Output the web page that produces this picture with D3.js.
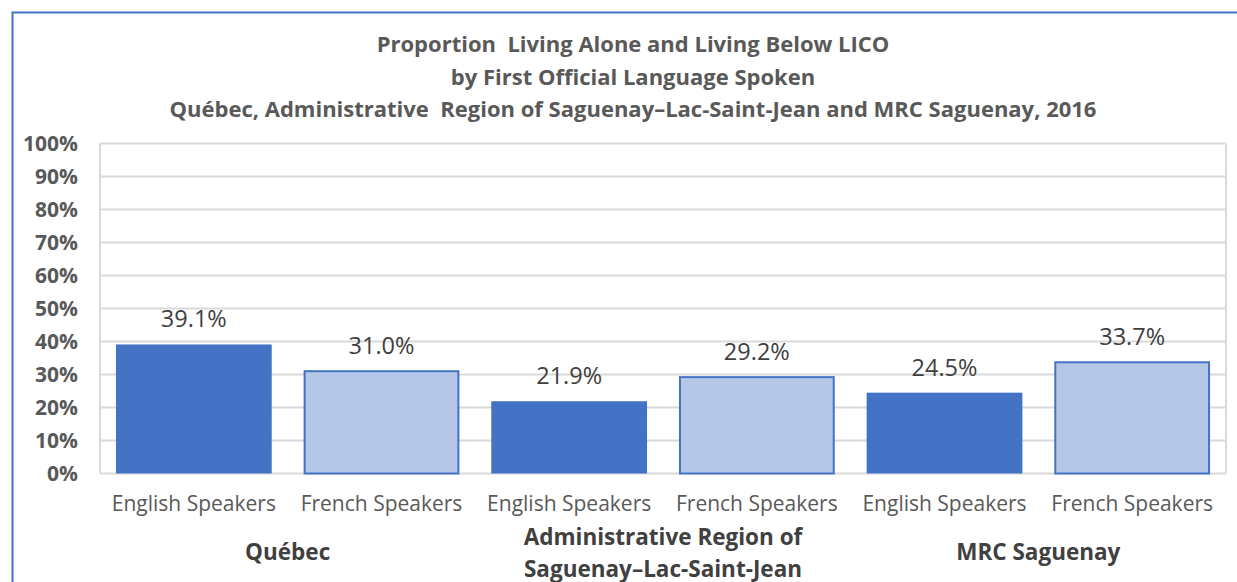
<!DOCTYPE html>
<html>
<head>
<meta charset="utf-8">
<script src="https://cdn.jsdelivr.net/npm/d3@7"></script>
<style>
  body { margin: 0; background: #fff; }
  text { font-family: "Open Sans", sans-serif; }
</style>
</head>
<body>
<div id="chart"></div>
<script>
// data
var categories = ["English Speakers", "French Speakers", "English Speakers", "French Speakers", "English Speakers", "French Speakers"];
var groups = [["Québec"], ["Administrative Region of", "Saguenay–Lac-Saint-Jean"], ["MRC Saguenay"]];
var values = [39.1, 31.0, 21.9, 29.2, 24.5, 33.7];
var speakerType = ["en", "fr", "en", "fr", "en", "fr"];
var yTicks = [0, 10, 20, 30, 40, 50, 60, 70, 80, 90, 100];
var titleLines = [
  "Proportion  Living Alone and Living Below LICO",
  "by First Official Language Spoken",
  "Québec, Administrative  Region of Saguenay–Lac-Saint-Jean and MRC Saguenay, 2016"
];

var W = 1237, H = 582;
var margin = {top: 143.5, right: 11, bottom: 108.5, left: 100},
    width = W - margin.left - margin.right,
    height = H - margin.top - margin.bottom;

var root = d3.select("#chart").append("svg")
    .attr("width", W)
    .attr("height", H);

// outer chart border
root.append("rect")
    .attr("x", 12.5).attr("y", 12.5)
    .attr("width", W).attr("height", H)
    .attr("fill", "none")
    .attr("stroke", "#4472C4")
    .attr("stroke-width", 2);

// title
root.append("g").selectAll("text")
    .data(titleLines)
    .enter().append("text")
      .attr("x", 633)
      .attr("y", function(d, i){ return 52 + i * 32.5; })
      .attr("text-anchor", "middle")
      .style("font-size", "22px")
      .style("font-weight", "bold")
      .style("fill", "#595959")
      .style("white-space", "pre")
      .text(function(d){ return d; });

var svg = root.append("g")
    .attr("transform", "translate(" + margin.left + "," + margin.top + ")");

var x = d3.scaleBand()
    .domain(d3.range(categories.length))
    .range([0, width])
    .paddingInner(0.17)
    .paddingOuter(0.085);

var y = d3.scaleLinear()
    .domain([0, 100])
    .range([height, 0]);

// gridlines
svg.append("g").selectAll("line")
    .data(yTicks)
    .enter().append("line")
      .attr("x1", 0).attr("x2", width)
      .attr("y1", function(d){ return y(d); })
      .attr("y2", function(d){ return y(d); })
      .attr("stroke", "#D9D9D9")
      .attr("stroke-width", 2);

// plot area sides
svg.append("line").attr("x1", 0).attr("x2", 0).attr("y1", 0).attr("y2", height)
    .attr("stroke", "#D9D9D9").attr("stroke-width", 2);
svg.append("line").attr("x1", width).attr("x2", width).attr("y1", 0).attr("y2", height)
    .attr("stroke", "#D9D9D9").attr("stroke-width", 2);

// y axis labels
var yAxis = svg.append("g")
    .call(d3.axisLeft(y).tickValues(yTicks).tickSize(0).tickPadding(22)
        .tickFormat(function(d){ return d + "%"; }));
yAxis.select(".domain").remove();
yAxis.selectAll("text")
    .style("font-family", "Open Sans")
    .style("font-size", "21px")
    .style("font-weight", "bold")
    .style("fill", "#595959");

// bars
svg.append("g").selectAll("rect")
    .data(values)
    .enter().append("rect")
      .attr("x", function(d, i){ return x(i) + (speakerType[i] === "fr" ? 1 : 0); })
      .attr("y", function(d){ return y(d); })
      .attr("width", function(d, i){ return x.bandwidth() - (speakerType[i] === "fr" ? 2 : 0); })
      .attr("height", function(d){ return height - y(d); })
      .attr("fill", function(d, i){ return speakerType[i] === "en" ? "#4472C4" : "#B4C7E7"; })
      .attr("stroke", function(d, i){ return speakerType[i] === "en" ? "none" : "#4472C4"; })
      .attr("stroke-width", 2);

// value labels
svg.append("g").selectAll("text")
    .data(values)
    .enter().append("text")
      .attr("x", function(d, i){ return x(i) + x.bandwidth() / 2; })
      .attr("y", function(d){ return y(d) - 17; })
      .attr("text-anchor", "middle")
      .style("font-size", "23.5px")
      .style("fill", "#404040")
      .text(function(d){ return d.toFixed(1) + "%"; });

// category labels
var xAxis = svg.append("g")
    .attr("transform", "translate(0," + height + ")")
    .call(d3.axisBottom(x).tickSize(0).tickPadding(23)
        .tickFormat(function(i){ return categories[i]; }));
xAxis.select(".domain").remove();
xAxis.selectAll("text")
    .style("font-family", "Open Sans")
    .style("font-size", "21px")
    .style("fill", "#595959");

// group labels
var groupG = svg.append("g").selectAll("text")
    .data(groups)
    .enter().append("text")
      .attr("x", function(d, g){ return (x(g * 2) + x(g * 2 + 1) + x.bandwidth()) / 2; })
      .attr("y", function(d){ return height + (d.length > 1 ? 71 : 86); })
      .attr("text-anchor", "middle")
      .style("font-size", "22.5px")
      .style("font-weight", "bold")
      .style("fill", "#404040");
groupG.selectAll("tspan")
    .data(function(d){ return d; })
    .enter().append("tspan")
      .attr("x", function(){ return d3.select(this.parentNode).attr("x"); })
      .attr("dy", function(d, i){ return i === 0 ? 0 : 32; })
      .text(function(d){ return d; });
</script>
</body>
</html>
